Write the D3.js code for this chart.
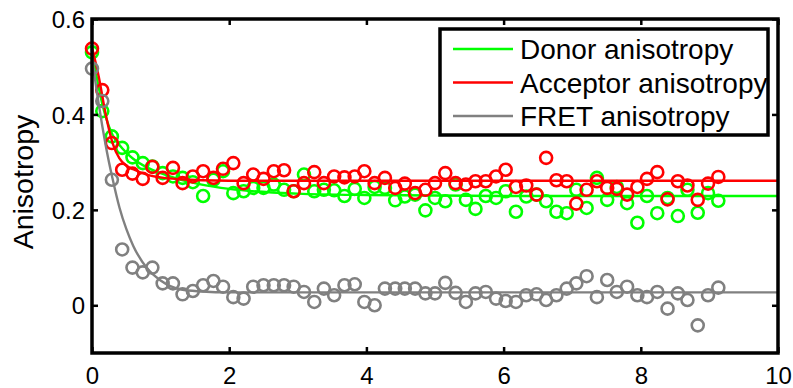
<!DOCTYPE html>
<html>
<head>
<meta charset="utf-8">
<script src="https://cdn.jsdelivr.net/npm/d3@7"></script>
<style>
  html, body { margin: 0; padding: 0; background: #fff; }
  svg { display: block; font-family: "Liberation Sans", Arial, Helvetica, sans-serif; }
</style>
</head>
<body>
<svg id="chart" width="793" height="388"></svg>
<script>
// ---- data ----
const times = [0, 0.15, 0.29, 0.44, 0.59, 0.74, 0.88, 1.03, 1.18, 1.32, 1.47,
  1.62, 1.77, 1.91, 2.06, 2.21, 2.35, 2.50, 2.65, 2.80, 2.94, 3.09, 3.24,
  3.38, 3.53, 3.68, 3.83, 3.97, 4.12, 4.27, 4.42, 4.56, 4.71, 4.86,
  5.00, 5.15, 5.30, 5.45, 5.59, 5.74, 5.89, 6.03, 6.18, 6.33, 6.48, 6.62,
  6.77, 6.92, 7.06, 7.21, 7.36, 7.51, 7.65, 7.80, 7.95, 8.09, 8.24,
  8.39, 8.54, 8.68, 8.83, 8.98, 9.13];

const donorValues = [0.530, 0.407, 0.354, 0.330, 0.310, 0.298, 0.291, 0.277, 0.270, 0.267, 0.258,
  0.229, 0.263, 0.281, 0.235, 0.239, 0.246, 0.246, 0.253, 0.242, 0.239, 0.274, 0.239,
  0.242, 0.241, 0.229, 0.244, 0.225, 0.248, 0.246, 0.220, 0.228, 0.232, 0.199,
  0.225, 0.218, 0.253, 0.221, 0.202, 0.229, 0.225, 0.239, 0.196, 0.228, 0.232, 0.218,
  0.196, 0.193, 0.242, 0.204, 0.267, 0.221, 0.248, 0.214, 0.173, 0.229, 0.193,
  0.225, 0.187, 0.242, 0.194, 0.235, 0.219];

const acceptorValues = [0.538, 0.451, 0.340, 0.284, 0.276, 0.265, 0.290, 0.267, 0.288, 0.256, 0.270,
  0.281, 0.267, 0.286, 0.298, 0.256, 0.274, 0.265, 0.281, 0.283, 0.239, 0.256, 0.279,
  0.256, 0.270, 0.268, 0.270, 0.281, 0.256, 0.267, 0.246, 0.255, 0.235, 0.242,
  0.256, 0.277, 0.256, 0.253, 0.260, 0.260, 0.270, 0.284, 0.248, 0.251, 0.232, 0.309,
  0.262, 0.260, 0.213, 0.242, 0.260, 0.246, 0.244, 0.232, 0.248, 0.265, 0.279,
  0.222, 0.260, 0.251, 0.221, 0.255, 0.269];

const fretValues = [0.496, 0.428, 0.263, 0.117, 0.079, 0.069, 0.079, 0.046, 0.046, 0.023, 0.030,
  0.042, 0.051, 0.039, 0.017, 0.014, 0.039, 0.042, 0.042, 0.042, 0.039, 0.028, 0.007,
  0.035, 0.021, 0.042, 0.044, 0.007, 0.000, 0.035, 0.035, 0.035, 0.035, 0.025,
  0.025, 0.047, 0.026, 0.007, 0.025, 0.028, 0.014, 0.009, 0.007, 0.021, 0.023, 0.011,
  0.021, 0.035, 0.046, 0.061, 0.017, 0.053, 0.028, 0.039, 0.021, 0.017, 0.028,
  -0.007, 0.025, 0.011, -0.042, 0.021, 0.037];

// fitted curves
const fitTimes    = [0, 0.1, 0.2, 0.3, 0.4, 0.5, 0.6, 0.8, 1.0, 1.3, 1.6, 2.0, 3.0, 4.0, 6.0, 10.0];
const donorFit    = [0.535, 0.455, 0.395, 0.357, 0.336, 0.320, 0.307, 0.289, 0.277, 0.263, 0.253, 0.244, 0.234, 0.231, 0.229, 0.229];
const acceptorFit = [0.540, 0.478, 0.400, 0.340, 0.308, 0.293, 0.285, 0.274, 0.268, 0.264, 0.262, 0.261, 0.261, 0.261, 0.261, 0.261];
const fretFit     = [0.520, 0.420, 0.335, 0.265, 0.205, 0.160, 0.125, 0.078, 0.052, 0.033, 0.029, 0.027, 0.027, 0.027, 0.027, 0.027];

const seriesNames = ["Donor anisotropy", "Acceptor anisotropy", "FRET anisotropy"];
const seriesColors = ["#00ff00", "#ff0000", "#808080"];

const xTicks = [0, 2, 4, 6, 8, 10];
const yTicks = [0, 0.2, 0.4, 0.6];
const yLabel = "Anisotropy";

// ---- layout ----
const svg = d3.select("#chart");
const L = 92, R = 778, T = 19, B = 353;
const x = d3.scaleLinear().domain([0, 10]).range([L, R]);
const y = d3.scaleLinear().domain([-0.1, 0.6]).range([B, T]);

const pointSeries = [donorValues, acceptorValues, fretValues];
const fitSeries = [donorFit, acceptorFit, fretFit];

const plot = svg.append("g");
svg.append("clipPath").attr("id", "clip")
  .append("rect").attr("x", L).attr("y", T).attr("width", R - L).attr("height", B - T);

const line = d3.line().x(d => x(d[0])).y(d => y(d[1])).curve(d3.curveMonotoneX);

pointSeries.forEach((vals, k) => {
  const g = plot.append("g");
  g.selectAll("circle").data(vals.map((v, i) => [times[i], v])).join("circle")
    .attr("cx", d => x(d[0])).attr("cy", d => y(d[1])).attr("r", 6)
    .attr("fill", "none").attr("stroke", seriesColors[k]).attr("stroke-width", 2.6);
  g.append("path").datum(fitSeries[k].map((v, i) => [fitTimes[i], v]))
    .attr("d", line).attr("fill", "none").attr("stroke", seriesColors[k])
    .attr("stroke-width", 2.4).attr("clip-path", "url(#clip)");
});

// ---- axes ----
const tickLen = 6;
const axisFont = 24;
const xb = svg.append("g").attr("transform", `translate(0,${B})`)
  .call(d3.axisBottom(x).tickValues(xTicks).tickFormat(d3.format("d")).tickSizeInner(-tickLen).tickSizeOuter(0).tickPadding(14));
const yl = svg.append("g").attr("transform", `translate(${L},0)`)
  .call(d3.axisLeft(y).tickValues(yTicks).tickFormat(d => d === 0 ? "0" : d3.format(".1f")(d)).tickSizeInner(-tickLen).tickSizeOuter(0).tickPadding(7));
const xt = svg.append("g").attr("transform", `translate(0,${T})`)
  .call(d3.axisTop(x).tickValues(xTicks).tickFormat("").tickSizeInner(-tickLen).tickSizeOuter(0));
const yr = svg.append("g").attr("transform", `translate(${R},0)`)
  .call(d3.axisRight(y).tickValues(yTicks).tickFormat("").tickSizeInner(-tickLen).tickSizeOuter(0));

[xb, yl, xt, yr].forEach(g => {
  g.select(".domain").remove();
  g.selectAll(".tick line").attr("stroke", "#000").attr("stroke-width", 2.5);
  g.selectAll(".tick text").attr("fill", "#000").style("font-size", axisFont + "px")
    .style("font-family", "'Liberation Sans', Arial, sans-serif");
});
yl.selectAll(".tick text").attr("dy", "0.36em");

svg.append("rect").attr("x", L).attr("y", T).attr("width", R - L).attr("height", B - T)
  .attr("fill", "none").attr("stroke", "#000").attr("stroke-width", 3.5);

svg.append("text").attr("transform", `translate(33,${(T + B) / 2 - 4}) rotate(-90)`)
  .attr("text-anchor", "middle").style("font-size", "28.5px").attr("fill", "#000").text(yLabel);

// ---- legend ----
const lg = svg.append("g");
lg.append("rect").attr("x", 440).attr("y", 29).attr("width", 328).attr("height", 106)
  .attr("fill", "#fff").attr("stroke", "#000").attr("stroke-width", 3.5);
seriesNames.forEach((name, k) => {
  const cy = 49 + k * 33.5;
  lg.append("line").attr("x1", 453).attr("x2", 513).attr("y1", cy).attr("y2", cy)
    .attr("stroke", seriesColors[k]).attr("stroke-width", 2.5);
  lg.append("text").attr("x", 520).attr("y", cy).attr("dy", "0.36em")
    .style("font-size", "28px").attr("fill", "#000").text(name);
});
</script>
</body>
</html>
